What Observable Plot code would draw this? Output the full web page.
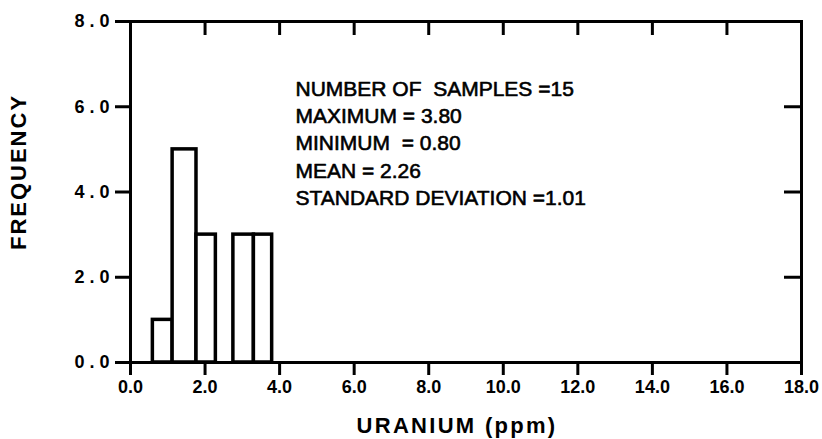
<!DOCTYPE html>
<html>
<head>
<meta charset="utf-8">
<script src="https://cdn.jsdelivr.net/npm/d3@7"></script>
<script src="https://cdn.jsdelivr.net/npm/@observablehq/plot@0.6"></script>
<style>
  html, body { margin: 0; padding: 0; background: #fff; }
  #chart svg { display: block; }
</style>
</head>
<body>
<div id="chart"></div>
<script>
// Histogram bins (ppm) and counts
const binStart = [0.6, 1.13, 1.77, 2.76, 3.31];
const binEnd   = [1.13, 1.77, 2.29, 3.31, 3.8];
const counts   = [1, 5, 3, 3, 3];

// Axis ticks
const xTicks = [0, 2, 4, 6, 8, 10, 12, 14, 16, 18];
const yTicks = [0, 2, 4, 6, 8];
const xInnerTicks = [2, 4, 6, 8, 10, 12, 14, 16];
const yInnerTicks = [2, 4, 6];

// Summary statistics annotation
const statLabels = ["NUMBER OF  SAMPLES =", "MAXIMUM = ", "MINIMUM  = ", "MEAN = ", "STANDARD DEVIATION ="];
const statValues = ["15", "3.80", "0.80", "2.26", "1.01"];

const bins = binStart.map((s, i) => ({x1: s, x2: binEnd[i], count: counts[i]}));
const statText = statLabels.map((l, i) => l + statValues[i]).join("\n");

const font = "'Liberation Sans', Arial, sans-serif";

const chart = Plot.plot({
  width: 822,
  height: 439,
  marginLeft: 130,
  marginRight: 21,
  marginTop: 21,
  marginBottom: 77,
  x: {domain: [0, 18]},
  y: {domain: [0, 8]},
  style: {fontFamily: font, background: "white", color: "black"},
  marks: [
    Plot.rectY(bins, {x1: "x1", x2: "x2", y: "count", fill: "white", stroke: "black", strokeWidth: 3.5}),
    Plot.frame({stroke: "black", strokeWidth: 3}),
    Plot.axisX({anchor: "bottom", ticks: xTicks, tickSize: 13, tickPadding: 5, strokeWidth: 3,
      tickFormat: d => d.toFixed(1), label: null}),
    Plot.axisX({anchor: "top", ticks: xInnerTicks, tickSize: 13, dy: 13, strokeWidth: 3,
      tickFormat: () => "", label: null}),
    Plot.axisY({anchor: "left", ticks: yTicks, tickSize: 15, tickPadding: 1, strokeWidth: 3,
      tickFormat: d => d.toFixed(1), label: null}),
    Plot.axisY({anchor: "right", ticks: yInnerTicks, tickSize: 18, dx: -18, strokeWidth: 3,
      tickFormat: () => "", label: null}),
    Plot.text([statText], {frameAnchor: "top-left", dx: 165, dy: 55, textAnchor: "start",
      lineAnchor: "top", lineHeight: 1.3, fontSize: 21, fill: "black", stroke: "black", strokeWidth: 0.6}),
    Plot.text(["FREQUENCY"], {frameAnchor: "left", textAnchor: "middle", lineAnchor: "middle",
      rotate: -90, dx: -112, dy: -20, fontSize: 22, fontWeight: "bold", fill: "black"}),
    Plot.text(["URANIUM (ppm)"], {frameAnchor: "bottom", textAnchor: "middle", lineAnchor: "middle",
      dx: -9, dy: 63, fontSize: 22, fontWeight: "bold", fill: "black"})
  ]
});

document.getElementById("chart").appendChild(chart);
// style the hand-lettered texts
d3.select(chart).selectAll("text").each(function () {
  const t = this.textContent;
  if (t === "FREQUENCY") this.setAttribute("letter-spacing", "2");
  else if (t === "URANIUM (ppm)") this.setAttribute("letter-spacing", "2.3");
  else if (/^\d+\.\d$/.test(t)) {
    this.setAttribute("font-size", "18");
    this.setAttribute("font-weight", "bold");
    const g = this.closest("g[aria-label]");
    const lab = g ? g.getAttribute("aria-label") : "";
    if (lab.startsWith("y")) this.setAttribute("letter-spacing", "5");
  }
});
</script>
</body>
</html>
